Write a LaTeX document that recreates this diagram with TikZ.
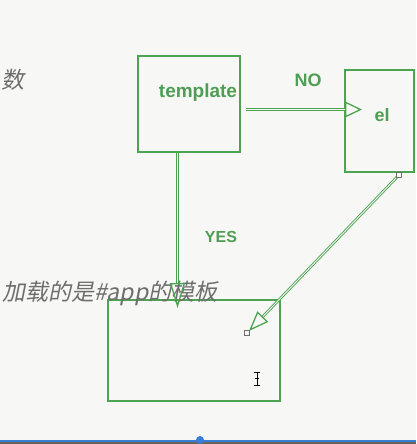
\documentclass[tikz,border=0pt]{standalone}
\usepackage{fontspec}
\setmainfont{Liberation Sans}
\newfontfamily\cjk[FakeSlant=0.2]{Noto Sans CJK SC}
\usetikzlibrary{arrows.meta}
\definecolor{gr}{RGB}{76,164,80}
\definecolor{txtgr}{RGB}{78,158,84}
\definecolor{bg}{RGB}{247,248,245}
\definecolor{gy}{RGB}{110,110,110}
\definecolor{barblue}{RGB}{58,125,215}
\definecolor{bardark}{RGB}{105,100,90}
\begin{document}
\begin{tikzpicture}[x=1pt,y=-1pt,
  box/.style={draw=gr,line width=1.6pt,inner sep=0pt},
  lbl/.style={text=txtgr,inner sep=0pt,font=\fontsize{#1}{#1}\selectfont\bfseries},
  gtxt/.style={text=gy,inner sep=0pt,font=\cjk\fontsize{23}{23}\selectfont},
  conn/.style={draw=gr,line width=1pt,double=bg,double distance=1pt},
  handle/.style={draw=gy,line width=0.6pt,fill=bg,minimum size=5pt,inner sep=0pt},
]
\useasboundingbox (0,0) rectangle (416,444);
\fill[bg] (0,0) rectangle (416,444);

% boxes
\node[box,minimum width=102pt,minimum height=96pt] (tpl) at (189,104) {};
\node[box,minimum width=69pt,minimum height=102pt] (el) at (379.5,121) {};
\node[box,minimum width=172pt,minimum height=101pt] (res) at (194,350.5) {};

% labels
\node[lbl=19] (tpltxt) at (198,93) {template};
\node[lbl=18] (eltxt) at (382,115) {el};
\node[lbl=18] (notxt) at (308,80) {NO};
\node[lbl=16] (yestxt) at (221,237) {YES};

% side texts
\node[gtxt,anchor=west] (shu) at (1,80) {数};
\node[gtxt,anchor=west] (app) at (2,293) {加载的是\#app的模板};

% connectors
\coordinate (noS) at (246,109.5);
\coordinate (noE) at (362,109.5);
\coordinate (yesS) at (177.5,153);
\coordinate (yesE) at (177.5,308);
\coordinate (dgS) at (398,176);
\coordinate (dgE) at (249,331);
\draw[conn,-{Triangle[open,length=17pt,width=16pt,line width=1.3pt]}] (noS) -- (noE);
\draw[conn,-{Triangle[open,length=25pt,width=15pt,line width=1.3pt]}] (yesS) -- (yesE);
\draw[conn,line width=0.9pt,double distance=0.9pt,-{Triangle[open,length=20pt,width=15pt,line width=1.3pt]}] (dgS) -- (dgE);
\node[handle] (h1) at (399,175) {};
\node[handle] (h2) at (247,333) {};

% text cursor
\draw[black,line width=0.8pt] (257,372) -- (257,385)
  (254,372) -- (260,372) (254,385) -- (260,385) (255,378.5) -- (259,378.5);

% bottom bar
\fill[bardark] (0,442) rectangle (416,444);
\fill[barblue] (0,439.5) rectangle (416,442);
\fill[barblue] (200,440) circle (4);
\end{tikzpicture}
\end{document}
